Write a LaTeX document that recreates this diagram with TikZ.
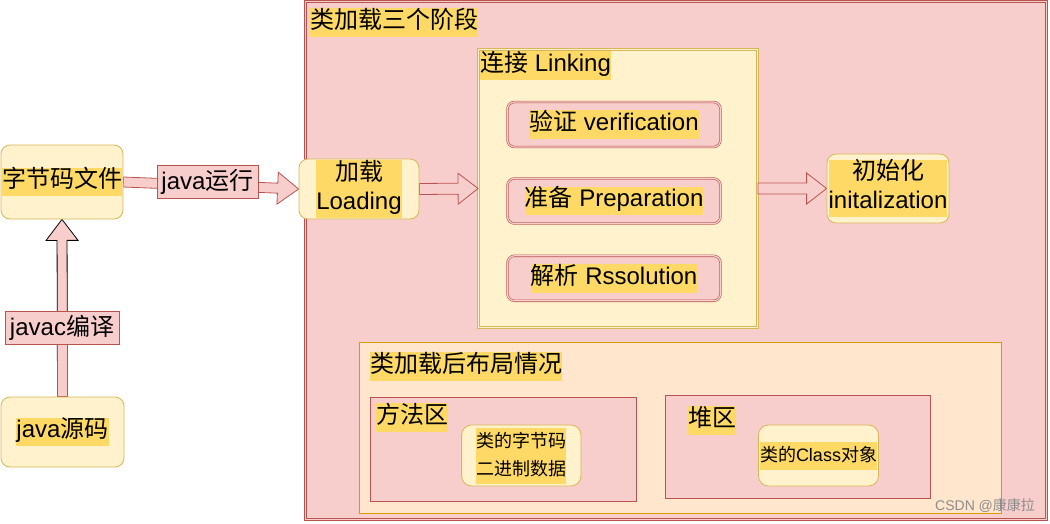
\documentclass[tikz,border=0pt]{standalone}
\usepackage{fontspec}
\setmainfont{Liberation Sans}
\newfontfamily\cjk{Noto Sans CJK SC}
\usetikzlibrary{calc}
\definecolor{pinkf}{HTML}{F8CECC}
\definecolor{redd}{HTML}{B85450}
\definecolor{yelf}{HTML}{FFF2CC}
\definecolor{yeld}{HTML}{D6B656}
\definecolor{hl}{HTML}{FFD966}
\definecolor{orf}{HTML}{FFE6CC}
\definecolor{ord}{HTML}{D79B00}
\pgfdeclarelayer{back}
\pgfdeclarelayer{arrows}
\pgfsetlayers{back,arrows,main}
\newcommand\hl[1]{{\setlength\fboxsep{0pt}\colorbox{hl}{\begin{tabular}{@{}c@{}}#1\end{tabular}}}}
\newcommand\flexarr[6]{%
  \coordinate (fah) at ($(#3)!#6!(#2)$);
  \draw[#1] ($(#2)!#4!90:(#3)$) -- ($(fah)!#4!90:(#3)$) -- ($(fah)!#5!90:(#3)$) -- (#3)
    -- ($(fah)!#5!-90:(#3)$) -- ($(fah)!#4!-90:(#3)$) -- ($(#2)!#4!-90:(#3)$) -- cycle;}
\begin{document}
\begin{tikzpicture}[x=1pt,y=-1pt,
  big/.style={font=\fontsize{24}{28.8}\selectfont},
  small/.style={font=\fontsize{18}{28}\selectfont},
  ybox/.style={draw=yeld, fill=yelf, rounded corners=9pt, line width=0.8pt, inner sep=0pt},
  lbl/.style={draw=redd, fill=pinkf, line width=0.8pt, inner sep=0pt, big},
  stagebox/.style={draw=redd, double=pinkf, double distance=1.2pt, line width=0.6pt, fill=pinkf, rounded corners=7pt, inner sep=0pt, big},
  title/.style={big, anchor=north west, inner sep=0pt},
  arr/.style={fill=pinkf, draw=redd, line width=0.8pt, line join=miter},
]
\useasboundingbox (0,0) rectangle (1050,523);
% containers
\begin{pgfonlayer}{back}
\node[draw=redd, double=pinkf, double distance=1.5pt, line width=0.7pt, fill=pinkf,
      minimum width=741, minimum height=518, inner sep=0pt] (outer) at (676,260.5) {};
\end{pgfonlayer}
\begin{pgfonlayer}{back}
\node[draw=yeld, double=yelf, double distance=1.5pt, line width=0.9pt, fill=yelf,
      minimum width=279, minimum height=278, inner sep=0pt] (link) at (618,188.5) {};
\node[draw=ord, fill=orf, line width=0.8pt, minimum width=642, minimum height=171, inner sep=0pt] (layout) at (680,427.5) {};
\node[draw=redd, fill=pinkf, line width=0.8pt, minimum width=265.5, minimum height=104, inner sep=0pt] (meth) at (503.25,449) {};
\node[draw=redd, fill=pinkf, line width=0.8pt, minimum width=265, minimum height=103, inner sep=0pt] (heap) at (797.5,446.5) {};
\end{pgfonlayer}
% titles
\node[title] (t1) at (310,8) {\hl{{\cjk 类加载三个阶段}}};
\node[title] (t2) at (480,51) {\hl{{\cjk 连接} Linking}};
\node[title] (t3) at (370,352) {\hl{{\cjk 类加载后布局情况}}};
\node[title] (t4) at (376,403) {\hl{{\cjk 方法区}}};
\node[title] (t5) at (688,406) {\hl{{\cjk 堆区}}};
% left nodes
\node[ybox, minimum width=122, minimum height=74, big] (bc) at (62,182) {\hl{{\cjk 字节码文件}}};
\node[ybox, minimum width=123, minimum height=70, big] (src) at (62.5,432) {\hl{java{\cjk 源码}}};
\node[lbl, minimum width=114, minimum height=33] (javac) at (62,327.5) {javac{\cjk 编译}};
\node[lbl, minimum width=101, minimum height=33] (run) at (207.5,181.5) {java{\cjk 运行}};
% stages
\node[ybox, minimum width=120, minimum height=60, big] (load) at (359,189) {\hl{{\cjk 加载}\\Loading}};
\node[stagebox, minimum width=213, minimum height=45] (ver) at (614,124.5) {\hl{{\cjk 验证} verification}};
\node[stagebox, minimum width=213, minimum height=45] (prep) at (614,201) {\hl{{\cjk 准备} Preparation}};
\node[stagebox, minimum width=213, minimum height=45] (res) at (614,278.3) {\hl{{\cjk 解析} Rssolution}};
\node[ybox, minimum width=122, minimum height=69, big] (init) at (888,188.5) {\hl{{\cjk 初始化}\\initalization}};
% layout
\node[ybox, rounded corners=10pt, minimum width=119.4, minimum height=61, small] (bytes) at (521.3,455.5) {\hl{{\cjk 类的字节码}\\{\cjk 二进制数据}}};
\node[ybox, rounded corners=10pt, minimum width=120, minimum height=61, small] (cls) at (818.5,455.5) {\hl{{\cjk 类的}Class{\cjk 对象}}};
\node[anchor=north west, inner sep=0pt, font=\fontsize{14}{16}\selectfont, text=black!45] (wm) at (935,498) {CSDN @{\cjk 康康拉}};
% arrows
\begin{pgfonlayer}{arrows}
\flexarr{arr, draw=black}{src.north}{bc.south}{5pt}{16pt}{21pt}
\draw[arr] ($(src.north)+(-5,0)$) rectangle ($(javac.south)+(5,0)$);
\flexarr{arr}{bc.east}{load.west}{5pt}{16pt}{21pt}
\flexarr{arr}{load.east}{link.west}{5.5pt}{15.5pt}{20pt}
\flexarr{arr}{link.east}{init.west}{5.5pt}{15.5pt}{20pt}
\end{pgfonlayer}
\end{tikzpicture}
\end{document}
